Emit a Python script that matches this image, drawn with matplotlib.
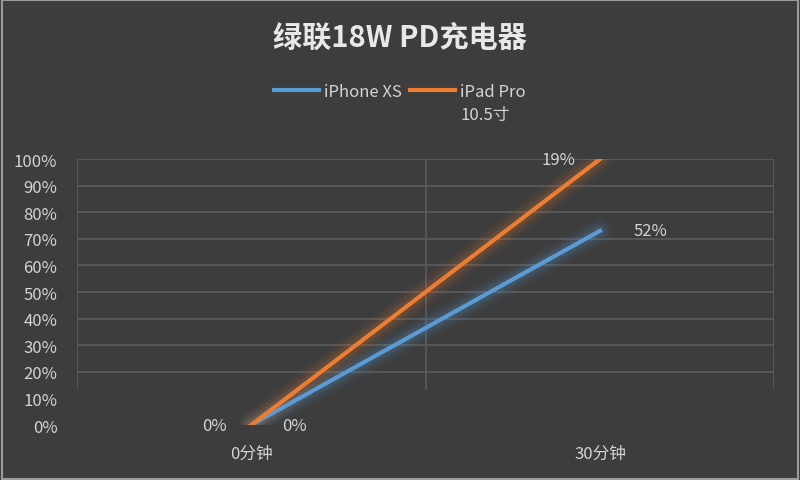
import matplotlib
matplotlib.use("Agg")
import matplotlib.pyplot as plt

plt.rcParams['font.family'] = ['Noto Sans CJK SC', 'DejaVu Sans']

# data
categories = ["0分钟", "30分钟"]
iphone_xs = [0, 73]
ipad_pro = [0, 100]
iphone_labels = ["0%", "52%"]
ipad_labels = ["0%", "19%"]
y_ticks = [0, 10, 20, 30, 40, 50, 60, 70, 80, 90, 100]

bg = "#3d3d3d"
txt = "#d4d4d4"
grid = "#5c5c5c"
blue = "#5b9bd5"
orange = "#ed7d31"

fig = plt.figure(figsize=(8, 4.81), dpi=100, facecolor=bg)
ax = fig.add_axes([0.096, 0.1143, 0.872, 0.553])
ax.set_facecolor(bg)

x = list(range(len(categories)))

# gridlines
ax.hlines([t for t in y_ticks if t >= 20], -0.5, 1.5, color=grid, lw=1.2, zorder=1)
ax.vlines([-0.5, 0.5, 1.5], 13, 100, color=grid, lw=1.2, zorder=1)

# soft glow under each line
for vals, col in [(iphone_xs, blue), (ipad_pro, orange)]:
    for w, a in [(18, 0.05), (13, 0.08), (8, 0.12)]:
        ax.plot(x, vals, color=col, lw=w, alpha=a, solid_capstyle="round", zorder=2)

ax.plot(x, iphone_xs, color=blue, lw=3, label="iPhone XS", zorder=3)
ax.plot(x, ipad_pro, color=orange, lw=3, label="iPad Pro", zorder=3)

# data labels
fs = 12
ax.text(x[0] + 0.09, iphone_xs[0], iphone_labels[0], color=txt, fontsize=fs, ha="left", va="center")
ax.text(x[1] + 0.095, iphone_xs[1], iphone_labels[1], color=txt, fontsize=fs, ha="left", va="center")
ax.text(x[0] - 0.07, ipad_pro[0], ipad_labels[0], color=txt, fontsize=fs, ha="right", va="center")
ax.text(x[1] - 0.07, ipad_pro[1], ipad_labels[1], color=txt, fontsize=fs, ha="right", va="center")

ax.set_xlim(-0.5, 1.5)
ax.set_ylim(0, 100)
ax.set_xticks(x)
ax.set_xticklabels(categories)
ax.set_yticks(y_ticks)
ax.set_yticklabels([f"{t}%" for t in y_ticks])
ax.tick_params(colors=txt, labelsize=fs, length=0, pad=14)
ax.tick_params(axis="x", pad=14)
for s in ax.spines.values():
    s.set_visible(False)

fig.text(0.5, 0.922, "绿联18W PD充电器", ha="center", va="center",
         fontsize=21, fontweight="bold", color="#e8e8e8")

leg = fig.legend(loc="center", bbox_to_anchor=(0.5, 0.807), ncol=2, frameon=False,
                 fontsize=fs, labelcolor=txt, handlelength=2.7, handletextpad=0.3,
                 columnspacing=0.5)

# second line of the iPad label goes under the legend entry
fig.canvas.draw()
bb = leg.get_texts()[1].get_window_extent()
W, H = fig.canvas.get_width_height()
fig.text(bb.x0 / W, (bb.y0 - 6) / H, "10.5寸", ha="left", va="top", color=txt, fontsize=fs)

# thin light frame
fig.patches.append(plt.Rectangle((0.002, 0.002), 0.996, 0.996, transform=fig.transFigure,
                                 fill=False, edgecolor="#9a9a9a", lw=1.5))

fig.savefig("out.png", dpi=100, facecolor=bg)
